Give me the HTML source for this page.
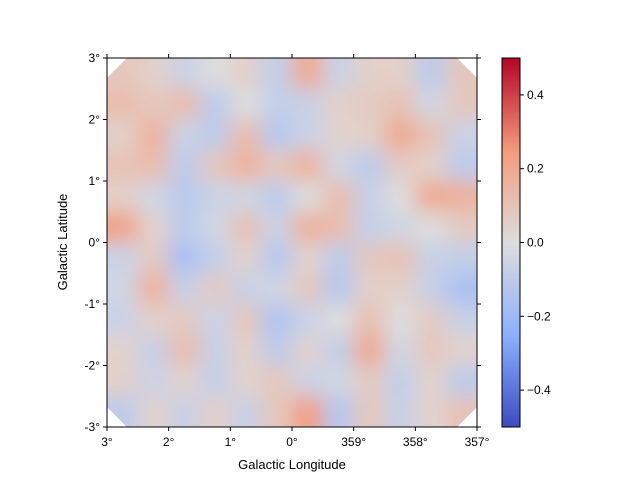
<!DOCTYPE html>
<html><head><meta charset="utf-8"><style>
body{margin:0;background:#fff;}
svg{font-family:"Liberation Sans","DejaVu Sans",sans-serif;}
</style></head><body>
<svg id="fig" width="640" height="480">
<defs>
<filter id="blur" x="-10%" y="-10%" width="120%" height="120%"><feGaussianBlur stdDeviation="10"/></filter>
<clipPath id="oct"><polygon points="127,58 457,58 477,78 477,407 457,427 127,427 107,407 107,78"/></clipPath>
<linearGradient id="cbg" x1="0" y1="1" x2="0" y2="0">
<stop offset="0" stop-color="rgb(59,76,192)"/><stop offset="0.25" stop-color="rgb(141,176,254)"/>
<stop offset="0.5" stop-color="rgb(221,221,221)"/><stop offset="0.75" stop-color="rgb(244,154,123)"/>
<stop offset="1" stop-color="rgb(180,4,38)"/></linearGradient>
</defs>
<g clip-path="url(#oct)">
<rect x="107" y="58" width="370" height="369" fill="rgb(221,221,221)"/>
<g id="cells" filter="url(#blur)"></g>
</g>
<g id="axes"></g>
<rect x="502" y="58" width="18" height="369" fill="url(#cbg)" stroke="#000" stroke-width="1"/>
<text x="292" y="469" font-size="13" text-anchor="middle">Galactic Longitude</text>
<text transform="translate(67,242) rotate(-90)" font-size="13" text-anchor="middle">Galactic Latitude</text>
</svg>
<script>
const gridValues = [
[0.08,0.05,-0.06,0,0.05,-0.08,0.19,-0.06,0.05,0.05,-0.1,0.08],
[0.12,0.08,0.12,-0.1,0,-0.08,-0.07,0.05,0.07,0.1,-0.04,0.08],
[0.05,0.16,-0.06,-0.1,0.12,-0.12,-0.06,0.04,0.05,0.19,0.1,-0.06],
[0.1,0.12,-0.1,0.08,0.16,0.08,0.16,-0.04,-0.1,0.07,0.05,-0.1],
[0.05,-0.04,-0.11,-0.06,-0.04,-0.1,0,0.12,-0.07,0,0.19,0.16],
[0.22,0.04,-0.1,-0.04,0.1,-0.06,0.16,0.12,-0.08,-0.04,0,0.07],
[-0.06,0.07,-0.16,-0.08,0.04,-0.12,0.04,-0.1,0.08,0.1,-0.07,-0.08],
[-0.04,0.16,-0.07,0.07,-0.07,-0.04,0.08,-0.12,0.05,0.05,-0.07,-0.16],
[-0.06,0.05,0.07,-0.06,0.08,-0.14,-0.06,0,0.11,0,0.07,-0.07],
[0.04,-0.07,0.12,-0.07,0.05,-0.1,0.04,-0.08,0.19,-0.04,0.08,0.04],
[0.05,-0.06,0.04,-0.08,0.04,0.08,-0.06,-0.04,0.07,-0.08,0.04,-0.1],
[-0.1,0.04,-0.07,0.05,-0.07,0.08,0.23,-0.12,0.08,-0.07,0.04,0.1]
];
const xTickLabels = ["3°","2°","1°","0°","359°","358°","357°"];
const yTickLabels = ["3°","2°","1°","0°","-1°","-2°","-3°"];
const cbTickValues = [0.4,0.2,0,-0.2,-0.4];
const cbTickLabels = ["0.4","0.2","0.0","\u22120.2","\u22120.4"];
const vmin=-0.5, vmax=0.5;
const X0=107,X1=477,Y0=58,Y1=427;
const NS="http://www.w3.org/2000/svg";
function cmap(v){
  const stops=[[59,76,192],[141,176,254],[221,221,221],[244,154,123],[180,4,38]];
  let t=Math.max(0,Math.min(1,(v-vmin)/(vmax-vmin)))*4;
  let i=Math.min(3,Math.floor(t)),f=t-i;
  const c=stops[i].map((a,k)=>Math.round(a+(stops[i+1][k]-a)*f));
  return `rgb(${c[0]},${c[1]},${c[2]})`;
}
function cbY(v){return Y1-(v-vmin)/(vmax-vmin)*(Y1-Y0);}
const cells=document.getElementById('cells');
const rows=gridValues.length, cols=gridValues[0].length;
const cw=(X1-X0)/cols, ch=(Y1-Y0)/rows;
for(let r=-1;r<=rows;r++)for(let c=-1;c<=cols;c++){
  const rr=Math.max(0,Math.min(rows-1,r)), cc=Math.max(0,Math.min(cols-1,c));
  const el=document.createElementNS(NS,'rect');
  
  
  el.setAttribute('x',X0+c*cw);el.setAttribute('y',Y0+r*ch);
  el.setAttribute('width',cw+0.5);el.setAttribute('height',ch+0.5);
  el.setAttribute('fill',cmap(gridValues[rr][cc]));
  cells.appendChild(el);
}
const axes=document.getElementById('axes');
function add(tag,attrs,txt,name){const e=document.createElementNS(NS,tag);for(const k in attrs)e.setAttribute(k,attrs[k]);if(txt!==undefined)e.textContent=txt;axes.appendChild(e);return e;}
add('rect',{x:X0,y:Y0,width:X1-X0,height:Y1-Y0,fill:'none',stroke:'#000','stroke-width':1},undefined,'plot-frame');
xTickLabels.forEach((l,i)=>{
  const x=X0+i*(X1-X0)/(xTickLabels.length-1);
  add('line',{x1:x,x2:x,y1:Y1,y2:Y1+4,stroke:'#000'},undefined,'x-tick');
  add('line',{x1:x,x2:x,y1:Y0,y2:Y0-4,stroke:'#000'},undefined,'x-tick-top');
  add('text',{x:x,y:Y1+19,'font-size':12,'text-anchor':'middle'},l,'x-tick-label');
});
yTickLabels.forEach((l,i)=>{
  const y=Y0+i*(Y1-Y0)/(yTickLabels.length-1);
  add('line',{x1:X0,x2:X0-4,y1:y,y2:y,stroke:'#000'},undefined,'y-tick');
  add('line',{x1:X1,x2:X1+4,y1:y,y2:y,stroke:'#000'},undefined,'y-tick-right');
  add('text',{x:X0-7,y:y+4,'font-size':12,'text-anchor':'end'},l,'y-tick-label');
});
cbTickValues.forEach((v,i)=>{
  const y=cbY(v);
  add('line',{x1:520,x2:524,y1:y,y2:y,stroke:'#000'},undefined,'colorbar-tick');
  add('text',{x:527,y:y+4,'font-size':12},cbTickLabels[i],'colorbar-tick-label');
});
</script>
</body></html>
